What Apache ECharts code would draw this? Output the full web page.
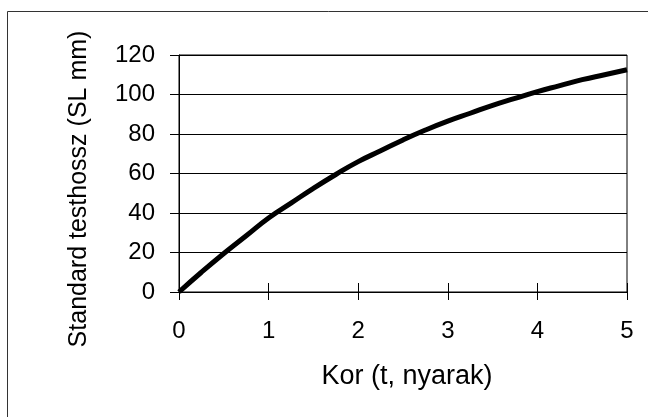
<!DOCTYPE html>
<html>
<head>
<meta charset="utf-8">
<script src="https://cdn.jsdelivr.net/npm/echarts@6/dist/echarts.min.js"></script>
<style>
html,body{margin:0;padding:0;background:#fff;}
#c{width:648px;height:417px;}
</style>
</head>
<body>
<div id="c"></div>
<script>
// Data
const ageYears = [0, 0.25, 0.5, 0.75, 1, 1.25, 1.5, 1.75, 2, 2.25, 2.5, 2.75, 3, 3.25, 3.5, 3.75, 4, 4.25, 4.5, 4.75, 5];
const standardLength = [0, 10, 19.5, 28.5, 37.5, 45, 52.5, 59.5, 66, 71.5, 77, 82, 86.5, 90.5, 94.5, 98, 101.5, 104.5, 107.5, 110, 112.5];
const xTicks = [0, 1, 2, 3, 4, 5];
const yTicks = [0, 20, 40, 60, 80, 100, 120];
const xTitle = 'Kor (t, nyarak)';
const yTitle = 'Standard testhossz (SL mm)';

const FONT = "'Liberation Sans', Arial, sans-serif";
const chart = echarts.init(document.getElementById('c'), null, {renderer: 'canvas'});

const xMin = xTicks[0], xMax = xTicks[xTicks.length - 1], xInt = xTicks[1] - xTicks[0];
const yMin = yTicks[0], yMax = yTicks[yTicks.length - 1], yInt = yTicks[1] - yTicks[0];

function xAxisBase(extra) {
  return Object.assign({
    type: 'value', min: xMin, max: xMax, interval: xInt, position: 'bottom',
    splitLine: {show: false}
  }, extra);
}
function yAxisBase(extra) {
  return Object.assign({
    type: 'value', min: yMin, max: yMax, interval: yInt, position: 'left'
  }, extra);
}

chart.setOption({
  animation: false,
  backgroundColor: '#fff',
  grid: {left: 179, right: 21, top: 55, bottom: 125, show: true, borderColor: '#000', borderWidth: 1, backgroundColor: 'transparent'},
  graphic: [
    {type: 'rect', shape: {x: 7.5, y: 11.5, width: 800, height: 600}, style: {fill: 'none', stroke: '#333', lineWidth: 1}, silent: true, z: -1},
    {type: 'text', x: 407, y: 377, style: {text: xTitle, font: '27px ' + FONT, fill: '#000', align: 'center', verticalAlign: 'middle'}},
    {type: 'text', x: 79, y: 189, rotation: Math.PI / 2, style: {text: yTitle, font: '25px ' + FONT, fill: '#000', align: 'center', verticalAlign: 'middle'}}
  ],
  xAxis: [
    xAxisBase({
      axisLine: {show: true, lineStyle: {color: '#000', width: 1}},
      axisTick: {show: true, inside: false, length: 8, lineStyle: {color: '#000'}},
      axisLabel: {show: true, margin: 39, verticalAlign: 'middle', color: '#000', fontSize: 24, fontFamily: FONT, lineHeight: 24}
    }),
    xAxisBase({
      axisLine: {show: false},
      axisTick: {show: true, inside: true, length: 9, lineStyle: {color: '#000'}},
      axisLabel: {show: false}
    })
  ],
  yAxis: [
    yAxisBase({
      axisLine: {show: true, lineStyle: {color: '#000', width: 1}},
      axisTick: {show: true, inside: false, length: 9, lineStyle: {color: '#000'}},
      axisLabel: {show: true, margin: 24, color: '#000', fontSize: 24, fontFamily: FONT},
      splitLine: {show: true, lineStyle: {color: '#000', width: 1}}
    }),
    yAxisBase({
      axisLine: {show: false},
      axisTick: {show: true, inside: true, length: 9, lineStyle: {color: '#000'}},
      axisLabel: {show: false},
      splitLine: {show: false}
    })
  ],
  series: [{
    type: 'line',
    xAxisIndex: 0, yAxisIndex: 0,
    data: ageYears.map((t, i) => [t, standardLength[i]]),
    smooth: true,
    showSymbol: false,
    symbol: 'none',
    lineStyle: {color: '#000', width: 5},
    z: 5
  }]
});
</script>
</body>
</html>
